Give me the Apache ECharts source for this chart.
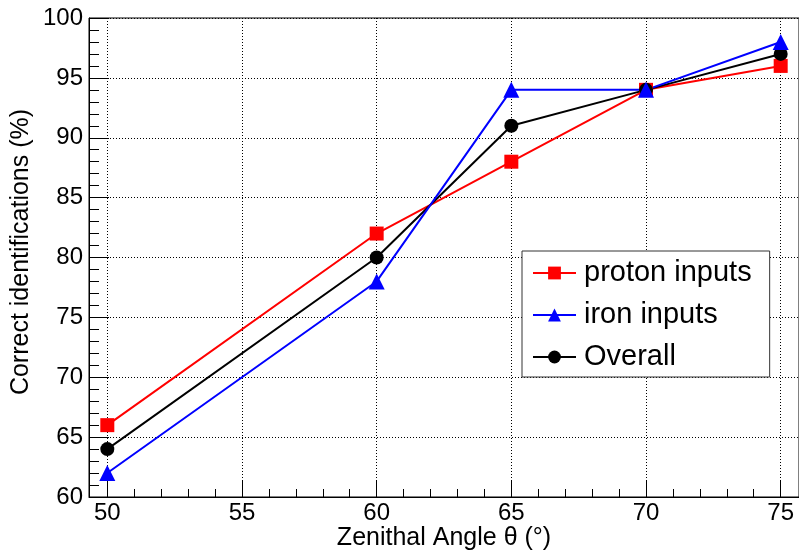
<!DOCTYPE html>
<html>
<head>
<meta charset="utf-8">
<script src="https://cdn.jsdelivr.net/npm/echarts@6/dist/echarts.min.js"></script>
<style>
html, body { margin: 0; padding: 0; background: #fff; }
#main { width: 799px; height: 552px; }
</style>
</head>
<body>
<div id="main"></div>
<script>
var myChart = echarts.init(document.getElementById('main'));

// zenith angles (deg) and correct identification rates (%)
var angles = [50, 60, 65, 70, 75];
var proton = [66, 82, 88, 94, 96];
var iron = [62, 78, 94, 94, 98];
var overall = [64, 80, 91, 94, 97];

var xMajorTicks = [50, 55, 60, 65, 70, 75];
var xMinorTicks = [50, 51, 52, 53, 54, 55, 56, 57, 58, 59, 60, 61, 62, 63, 64, 65, 66, 67, 68, 69, 70, 71, 72, 73, 74, 75];

var font = 'Liberation Sans';

function pairs(ys) {
    return angles.map(function (a, i) { return [a, ys[i]]; });
}

var option = {
    animation: false,
    backgroundColor: '#fff',
    grid: {
        left: 89,
        top: 18,
        width: 712,
        height: 479,
        show: true,
        borderColor: '#000',
        borderWidth: 1,
        backgroundColor: 'transparent'
    },
    legend: {
        orient: 'vertical',
        left: 522,
        top: 251,
        padding: [7, 18, 5, 10],
        backgroundColor: '#fff',
        borderColor: '#333',
        borderWidth: 1,
        borderRadius: 0,
        itemWidth: 43,
        itemHeight: 16,
        itemGap: 12,
        data: ['proton inputs', 'iron inputs', 'Overall'],
        textStyle: {
            fontFamily: font,
            fontSize: 29,
            color: '#000',
            lineHeight: 30,
            padding: [0, 0, 0, 3]
        }
    },
    xAxis: [
        {
            type: 'value',
            min: 49.32,
            max: 75.68,
            axisLine: { show: true, onZero: false, lineStyle: { color: '#000', width: 1 } },
            axisTick: { show: true, inside: true, length: 16, customValues: xMajorTicks, lineStyle: { color: '#000' } },
            axisLabel: { customValues: xMajorTicks, fontFamily: font, fontSize: 24, color: '#000', margin: 4 },
            splitLine: { show: true, lineStyle: { color: '#000', type: [1, 2], width: 1 } }
        },
        {
            type: 'value',
            min: 49.32,
            max: 75.68,
            position: 'bottom',
            axisLine: { show: false },
            axisTick: { show: true, inside: true, length: 8, customValues: xMinorTicks, lineStyle: { color: '#000' } },
            axisLabel: { show: false },
            splitLine: { show: false }
        }
    ],
    yAxis: {
        type: 'value',
        min: 60,
        max: 100,
        interval: 5,
        axisLine: { show: true, onZero: false, lineStyle: { color: '#000', width: 1 } },
        axisTick: { show: true, inside: true, length: 20, lineStyle: { color: '#000' } },
        minorTick: { show: true, splitNumber: 5, length: 10, lineStyle: { color: '#000' } },
        axisLabel: { fontFamily: font, fontSize: 24, color: '#000', margin: 6 },
        splitLine: { show: true, lineStyle: { color: '#000', type: [1, 2], width: 1 } }
    },
    graphic: [
        {
            type: 'text',
            x: 21,
            y: 252,
            rotation: Math.PI / 2,
            style: {
                text: 'Correct identifications (%)',
                fontFamily: font,
                fontSize: 25,
                fill: '#000',
                align: 'center',
                verticalAlign: 'middle'
            }
        },
        {
            type: 'text',
            x: 444,
            y: 538,
            style: {
                text: 'Zenithal Angle θ (°)',
                fontFamily: font,
                fontSize: 25,
                fill: '#000',
                align: 'center',
                verticalAlign: 'middle'
            }
        }
    ],
    series: [
        {
            name: 'proton inputs',
            type: 'line',
            data: pairs(proton),
            symbol: 'rect',
            symbolSize: 14,
            itemStyle: { color: '#ff0000' },
            lineStyle: { color: '#ff0000', width: 2 }
        },
        {
            name: 'Overall',
            type: 'line',
            data: pairs(overall),
            symbol: 'circle',
            symbolSize: 14,
            itemStyle: { color: '#000000' },
            lineStyle: { color: '#000000', width: 2 }
        },
        {
            name: 'iron inputs',
            type: 'line',
            data: pairs(iron),
            symbol: 'triangle',
            symbolSize: 16,
            itemStyle: { color: '#0000ff' },
            lineStyle: { color: '#0000ff', width: 2 }
        }
    ]
};

myChart.setOption(option);
</script>
</body>
</html>
